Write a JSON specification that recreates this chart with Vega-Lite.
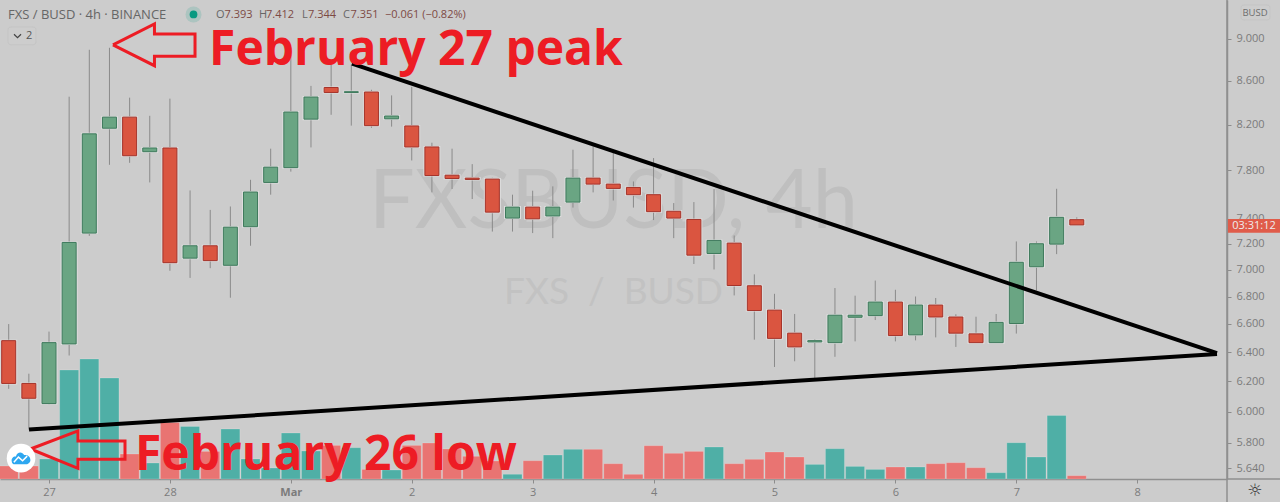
{
"$schema":"https://vega.github.io/schema/vega-lite/v6.json",
"width":1227,"height":479,
"autosize":{"type":"none"},
"padding":{"left":0,"top":0,"right":53,"bottom":23},
"background":"#cccccc",
"view":{"stroke":null},
"config":{"axis":{"grid":false},"text":{"font":"Open Sans"}},
"datasets":{"bars":[
{"t":"2022-02-26T16:00:00Z","o":6.481,"h":6.599,"l":6.150,"c":6.186,"v":13,"d":"d"},
{"t":"2022-02-26T20:00:00Z","o":6.186,"h":6.252,"l":5.883,"c":6.087,"v":13,"d":"d"},
{"t":"2022-02-27T00:00:00Z","o":6.052,"h":6.545,"l":6.046,"c":6.467,"v":20,"d":"u"},
{"t":"2022-02-27T04:00:00Z","o":6.458,"h":8.452,"l":6.377,"c":7.212,"v":109,"d":"u"},
{"t":"2022-02-27T08:00:00Z","o":7.286,"h":8.895,"l":7.264,"c":8.117,"v":120,"d":"u"},
{"t":"2022-02-27T12:00:00Z","o":8.167,"h":8.914,"l":7.848,"c":8.266,"v":101,"d":"u"},
{"t":"2022-02-27T16:00:00Z","o":8.266,"h":8.443,"l":7.865,"c":7.926,"v":25,"d":"d"},
{"t":"2022-02-27T20:00:00Z","o":7.961,"h":8.278,"l":7.699,"c":7.993,"v":16,"d":"u"},
{"t":"2022-02-28T00:00:00Z","o":7.993,"h":8.434,"l":6.993,"c":7.055,"v":56.6,"d":"d"},
{"t":"2022-02-28T04:00:00Z","o":7.090,"h":7.632,"l":6.939,"c":7.186,"v":52.6,"d":"u"},
{"t":"2022-02-28T08:00:00Z","o":7.186,"h":7.472,"l":7.013,"c":7.071,"v":27.6,"d":"d"},
{"t":"2022-02-28T12:00:00Z","o":7.035,"h":7.500,"l":6.791,"c":7.333,"v":50,"d":"u"},
{"t":"2022-02-28T16:00:00Z","o":7.337,"h":7.721,"l":7.186,"c":7.619,"v":20,"d":"u"},
{"t":"2022-02-28T20:00:00Z","o":7.699,"h":7.987,"l":7.597,"c":7.828,"v":11,"d":"u"},
{"t":"2022-03-01T00:00:00Z","o":7.824,"h":8.895,"l":7.790,"c":8.312,"v":46,"d":"u"},
{"t":"2022-03-01T04:00:00Z","o":8.248,"h":8.552,"l":7.998,"c":8.449,"v":28,"d":"u"},
{"t":"2022-03-01T08:00:00Z","o":8.537,"h":8.770,"l":8.287,"c":8.491,"v":33.6,"d":"d"},
{"t":"2022-03-01T12:00:00Z","o":8.491,"h":8.751,"l":8.190,"c":8.498,"v":31.3,"d":"u"},
{"t":"2022-03-01T16:00:00Z","o":8.495,"h":8.516,"l":8.170,"c":8.190,"v":9.6,"d":"d"},
{"t":"2022-03-01T20:00:00Z","o":8.251,"h":8.464,"l":8.181,"c":8.276,"v":9,"d":"u"},
{"t":"2022-03-02T00:00:00Z","o":8.187,"h":8.543,"l":7.885,"c":8.002,"v":33.6,"d":"d"},
{"t":"2022-03-02T04:00:00Z","o":8.002,"h":8.039,"l":7.616,"c":7.757,"v":36,"d":"d"},
{"t":"2022-03-02T08:00:00Z","o":7.760,"h":7.987,"l":7.644,"c":7.732,"v":30,"d":"d"},
{"t":"2022-03-02T12:00:00Z","o":7.735,"h":7.854,"l":7.561,"c":7.724,"v":22.7,"d":"d"},
{"t":"2022-03-02T16:00:00Z","o":7.727,"h":7.738,"l":7.298,"c":7.454,"v":18,"d":"d"},
{"t":"2022-03-02T20:00:00Z","o":7.406,"h":7.597,"l":7.298,"c":7.495,"v":4.7,"d":"u"},
{"t":"2022-03-03T00:00:00Z","o":7.495,"h":7.630,"l":7.286,"c":7.400,"v":18.3,"d":"d"},
{"t":"2022-03-03T04:00:00Z","o":7.423,"h":7.666,"l":7.246,"c":7.495,"v":24,"d":"u"},
{"t":"2022-03-03T08:00:00Z","o":7.536,"h":7.978,"l":7.491,"c":7.735,"v":29.7,"d":"u"},
{"t":"2022-03-03T12:00:00Z","o":7.735,"h":8.007,"l":7.616,"c":7.685,"v":29.7,"d":"d"},
{"t":"2022-03-03T16:00:00Z","o":7.685,"h":7.961,"l":7.549,"c":7.649,"v":15.3,"d":"d"},
{"t":"2022-03-03T20:00:00Z","o":7.657,"h":7.707,"l":7.491,"c":7.597,"v":4.7,"d":"d"},
{"t":"2022-03-04T00:00:00Z","o":7.597,"h":7.906,"l":7.390,"c":7.458,"v":33.3,"d":"d"},
{"t":"2022-03-04T04:00:00Z","o":7.461,"h":7.528,"l":7.246,"c":7.406,"v":25.7,"d":"d"},
{"t":"2022-03-04T08:00:00Z","o":7.395,"h":7.536,"l":7.045,"c":7.113,"v":27.6,"d":"d"},
{"t":"2022-03-04T12:00:00Z","o":7.126,"h":7.644,"l":7.003,"c":7.228,"v":32,"d":"u"},
{"t":"2022-03-04T16:00:00Z","o":7.207,"h":7.267,"l":6.808,"c":6.882,"v":15.3,"d":"d"},
{"t":"2022-03-04T20:00:00Z","o":6.880,"h":6.966,"l":6.488,"c":6.697,"v":19.7,"d":"d"},
{"t":"2022-03-05T00:00:00Z","o":6.700,"h":6.820,"l":6.298,"c":6.497,"v":27,"d":"d"},
{"t":"2022-03-05T04:00:00Z","o":6.534,"h":6.672,"l":6.337,"c":6.437,"v":22,"d":"d"},
{"t":"2022-03-05T08:00:00Z","o":6.472,"h":6.492,"l":6.216,"c":6.481,"v":14.6,"d":"u"},
{"t":"2022-03-05T12:00:00Z","o":6.467,"h":6.863,"l":6.368,"c":6.663,"v":30.3,"d":"u"},
{"t":"2022-03-05T16:00:00Z","o":6.648,"h":6.806,"l":6.476,"c":6.663,"v":12.6,"d":"u"},
{"t":"2022-03-05T20:00:00Z","o":6.660,"h":6.919,"l":6.628,"c":6.759,"v":9.6,"d":"u"},
{"t":"2022-03-06T00:00:00Z","o":6.759,"h":6.850,"l":6.476,"c":6.517,"v":12,"d":"d"},
{"t":"2022-03-06T04:00:00Z","o":6.522,"h":6.800,"l":6.483,"c":6.737,"v":12,"d":"u"},
{"t":"2022-03-06T08:00:00Z","o":6.737,"h":6.789,"l":6.504,"c":6.650,"v":15.3,"d":"d"},
{"t":"2022-03-06T12:00:00Z","o":6.650,"h":6.670,"l":6.437,"c":6.534,"v":16.3,"d":"d"},
{"t":"2022-03-06T16:00:00Z","o":6.529,"h":6.652,"l":6.465,"c":6.467,"v":11.3,"d":"d"},
{"t":"2022-03-06T20:00:00Z","o":6.467,"h":6.672,"l":6.465,"c":6.611,"v":6.3,"d":"u"},
{"t":"2022-03-07T00:00:00Z","o":6.603,"h":7.220,"l":6.531,"c":7.058,"v":36.3,"d":"u"},
{"t":"2022-03-07T04:00:00Z","o":7.024,"h":7.220,"l":6.845,"c":7.202,"v":22,"d":"u"},
{"t":"2022-03-07T08:00:00Z","o":7.199,"h":7.646,"l":7.121,"c":7.412,"v":63.6,"d":"u"},
{"t":"2022-03-07T12:00:00Z","o":7.393,"h":7.412,"l":7.344,"c":7.351,"v":3.3,"d":"d"}
]},
"encoding":{"x":{"field":"t","type":"temporal",
 "scale":{"type":"utc","domain":["2022-02-26T14:16:26Z","2022-03-08T17:49:00Z"],"nice":false,"padding":0},
 "axis":{"title":null,"grid":false,"tickCount":{"interval":"day","step":1},
  "labelExpr":"utcdate(datum.value)==1?'Mar':''+utcdate(datum.value)",
  "labelFont":"Open Sans","labelFontSize":11,"labelColor":"#7b7b7b","labelPadding":3,"labelFlush":false,"labelOverlap":false,
  "labelFontWeight":{"condition":{"test":"utcdate(datum.value)==1","value":"bold"},"value":"normal"},
  "tickColor":"#8c8c8c","tickSize":4,"tickWidth":1,"domainColor":"#8f8f8f","domainWidth":1.5}}},
"layer":[
 {"data":{"values":[{"t":"2022-03-03T16:03:00Z","p":7.327,"s":"FXSBUSD, 4h"}]},
  "mark":{"type":"text","font":"Lato","fontSize":81,"color":"#bfbfbf","align":"center","baseline":"alphabetic"},
  "encoding":{"y":{"field":"p","type":"quantitative","axis":null,"scale":{"type":"log","domain":[5.575,9.39],"nice":false,"zero":false}},"text":{"field":"s"}}},
 {"data":{"values":[{"t":"2022-03-03T16:03:00Z","p":6.747,"s":"FXS\u00a0\u00a0/\u00a0\u00a0BUSD"}]},
  "mark":{"type":"text","font":"Lato","fontSize":37,"color":"#c2c2c2","align":"center","baseline":"alphabetic"},
  "encoding":{"y":{"field":"p","type":"quantitative","axis":null,"scale":{"type":"log","domain":[5.575,9.39],"nice":false,"zero":false}},"text":{"field":"s"}}},
 {"data":{"name":"bars"},
  "mark":{"type":"bar","size":19,"strokeWidth":1,"stroke":"#ffffff","strokeOpacity":0.18},
  "encoding":{"y":{"field":"v","type":"quantitative","axis":null,"scale":{"domain":[0,479],"nice":false,"zero":true}},
   "fill":{"condition":{"test":"datum.d=='u'","value":"#4fafa6"},"value":"#e97472"}}},
 {"layer":[
  {"data":{"name":"bars"},
   "mark":{"type":"rule","color":"#8a8a8a","strokeWidth":1},
   "encoding":{"y":{"field":"h","type":"quantitative","title":null,"scale":{"type":"log","domain":[5.575,9.39],"nice":false,"zero":false},
     "axis":{"orient":"right","title":null,"grid":false,"values":[5.64,5.8,6,6.2,6.4,6.6,6.8,7,7.2,7.4,7.8,8.2,8.6,9],"format":".3f","labelFont":"Open Sans","labelFontSize":11,"labelColor":"#7b7b7b","labelPadding":5,"labelFlush":false,"labelOverlap":false,"tickColor":"#8c8c8c","tickSize":4,"domainColor":"#8f8f8f","domainWidth":1.5}},
    "y2":{"field":"l"}}},
  {"data":{"name":"bars"},
   "mark":{"type":"bar","size":15,"fill":"#dedede","stroke":"#dedede","strokeWidth":2},
   "encoding":{"y":{"field":"o","type":"quantitative","title":null,"axis":{"orient":"right","title":null},"scale":{"type":"log","domain":[5.575,9.39],"nice":false,"zero":false}},"y2":{"field":"c"}}},
  {"data":{"name":"bars"},
   "mark":{"type":"bar","size":14,"strokeWidth":1},
   "encoding":{"y":{"field":"o","type":"quantitative","title":null,"axis":{"orient":"right","title":null},"scale":{"type":"log","domain":[5.575,9.39],"nice":false,"zero":false}},"y2":{"field":"c"},
    "fill":{"condition":{"test":"datum.d=='u'","value":"#6aa583"},"value":"#da5540"},
    "stroke":{"condition":{"test":"datum.d=='u'","value":"#3e7a5c"},"value":"#a5332a"}}},
  {"data":{"values":[
    {"id":"upper","n":0,"t":"2022-03-01T12:08:00Z","p":8.761},{"id":"upper","n":1,"t":"2022-03-08T15:50:00Z","p":6.394},
    {"id":"lower","n":0,"t":"2022-02-26T20:02:00Z","p":5.883},{"id":"lower","n":1,"t":"2022-03-08T15:50:00Z","p":6.387}]},
   "mark":{"type":"line","color":"#000000","strokeWidth":4,"strokeCap":"butt"},
   "encoding":{"y":{"field":"p","type":"quantitative","title":null,"axis":{"orient":"right","title":null},"scale":{"type":"log","domain":[5.575,9.39],"nice":false,"zero":false}},"detail":{"field":"id"},"order":{"field":"n"}}},
  {"data":{"values":[
    {"id":"a","n":0,"t":"2022-02-27T12:42:00Z","p":8.943},{"id":"a","n":1,"t":"2022-02-27T20:56:00Z","p":9.148},{"id":"a","n":2,"t":"2022-02-27T20:56:00Z","p":9.049},{"id":"a","n":3,"t":"2022-02-28T04:59:00Z","p":9.049},{"id":"a","n":4,"t":"2022-02-28T04:59:00Z","p":8.833},{"id":"a","n":5,"t":"2022-02-27T20:56:00Z","p":8.833},{"id":"a","n":6,"t":"2022-02-27T20:56:00Z","p":8.742},{"id":"a","n":7,"t":"2022-02-27T12:42:00Z","p":8.943},
    {"id":"b","n":0,"t":"2022-02-26T20:20:00Z","p":5.76},{"id":"b","n":1,"t":"2022-02-27T05:45:00Z","p":5.875},{"id":"b","n":2,"t":"2022-02-27T05:45:00Z","p":5.811},{"id":"b","n":3,"t":"2022-02-27T15:05:00Z","p":5.811},{"id":"b","n":4,"t":"2022-02-27T15:05:00Z","p":5.696},{"id":"b","n":5,"t":"2022-02-27T05:45:00Z","p":5.696},{"id":"b","n":6,"t":"2022-02-27T05:45:00Z","p":5.64},{"id":"b","n":7,"t":"2022-02-26T20:20:00Z","p":5.76}]},
   "mark":{"type":"line","color":"#ed1c24","strokeWidth":3,"strokeJoin":"miter"},
   "encoding":{"y":{"field":"p","type":"quantitative","title":null,"axis":{"orient":"right","title":null},"scale":{"type":"log","domain":[5.575,9.39],"nice":false,"zero":false}},"detail":{"field":"id"},"order":{"field":"n"}}},
  {"data":{"values":[{"t":"2022-02-28T07:46:00Z","p":8.751,"s":"February 27 peak"},{"t":"2022-02-27T17:04:00Z","p":5.628,"s":"February 26 low"}]},
   "mark":{"type":"text","font":"Open Sans","fontWeight":700,"fontSize":48,"color":"#ed1c24","align":"left","baseline":"alphabetic"},
   "encoding":{"y":{"field":"p","type":"quantitative","title":null,"axis":{"orient":"right","title":null},"scale":{"type":"log","domain":[5.575,9.39],"nice":false,"zero":false}},"text":{"field":"s"}}},
  {"data":{"values":[{"t":"2022-03-08T17:49:00Z","p":9.39,"p2":5.437}]},
   "mark":{"type":"rule","color":"#8f8f8f","strokeWidth":1.5},
   "encoding":{"y":{"field":"p","type":"quantitative","title":null,"axis":{"orient":"right","title":null},"scale":{"type":"log","domain":[5.575,9.39],"nice":false,"zero":false}},"y2":{"field":"p2"}}},
  {"data":{"values":[{"t":"2022-03-08T17:49:00Z","t2":"2022-03-09T04:20:00Z","p":5.575}]},
   "mark":{"type":"rule","color":"#8f8f8f","strokeWidth":1.5},
   "encoding":{"y":{"field":"p","type":"quantitative","title":null,"axis":{"orient":"right","title":null},"scale":{"type":"log","domain":[5.575,9.39],"nice":false,"zero":false}},"x2":{"field":"t2"}}},
  {"data":{"values":[{"t":"2022-03-08T18:00:00Z","t2":"2022-03-09T04:20:00Z","p":7.398,"p2":7.288}]},
   "mark":{"type":"rect","fill":"#e05c4a"},
   "encoding":{"y":{"field":"p","type":"quantitative","title":null,"axis":{"orient":"right","title":null},"scale":{"type":"log","domain":[5.575,9.39],"nice":false,"zero":false}},"y2":{"field":"p2"},"x2":{"field":"t2"}}},
  {"data":{"values":[{"t":"2022-03-08T23:11:00Z","p":7.34,"s":"03:31:12"}]},
   "mark":{"type":"text","font":"Open Sans","fontSize":11,"color":"#eeeeee","align":"center","baseline":"middle"},
   "encoding":{"y":{"field":"p","type":"quantitative","title":null,"axis":{"orient":"right","title":null},"scale":{"type":"log","domain":[5.575,9.39],"nice":false,"zero":false}},"text":{"field":"s"}}},
  {"data":{"values":[{"t":"2022-03-08T20:36:00Z","t2":"2022-03-09T02:21:00Z","p":9.339,"p2":9.188},{"t":"2022-02-26T15:52:00Z","t2":"2022-02-26T21:25:00Z","p":9.118,"p2":8.943}]},
   "mark":{"type":"rect","fill":"#cdcdcd","stroke":"#c5c5c5","strokeWidth":1,"cornerRadius":3},
   "encoding":{"y":{"field":"p","type":"quantitative","title":null,"axis":{"orient":"right","title":null},"scale":{"type":"log","domain":[5.575,9.39],"nice":false,"zero":false}},"y2":{"field":"p2"},"x2":{"field":"t2"}}},
  {"data":{"values":[{"t":"2022-03-08T23:23:00Z","p":9.258,"s":"BUSD"}]},
   "mark":{"type":"text","font":"Open Sans","fontSize":9.5,"color":"#6e6e6e","align":"center","baseline":"middle"},
   "encoding":{"y":{"field":"p","type":"quantitative","title":null,"axis":{"orient":"right","title":null},"scale":{"type":"log","domain":[5.575,9.39],"nice":false,"zero":false}},"text":{"field":"s"}}},
  {"data":{"values":[{"t":"2022-02-26T15:52:00Z","p":9.238,"s":"FXS / BUSD \u00b7 4h \u00b7 BINANCE"}]},
   "mark":{"type":"text","font":"Open Sans","fontSize":13,"color":"#666666","align":"left","baseline":"middle"},
   "encoding":{"y":{"field":"p","type":"quantitative","title":null,"axis":{"orient":"right","title":null},"scale":{"type":"log","domain":[5.575,9.39],"nice":false,"zero":false}},"text":{"field":"s"}}},
  {"data":{"values":[{"t":"2022-02-28T09:09:00Z","p":9.238,"s":"O"},{"t":"2022-02-28T17:41:00Z","p":9.238,"s":"H"},{"t":"2022-03-01T02:13:00Z","p":9.238,"s":"L"},{"t":"2022-03-01T10:22:00Z","p":9.238,"s":"C"}]},
   "mark":{"type":"text","font":"Open Sans","fontSize":11,"color":"#666666","align":"left","baseline":"middle"},
   "encoding":{"y":{"field":"p","type":"quantitative","title":null,"axis":{"orient":"right","title":null},"scale":{"type":"log","domain":[5.575,9.39],"nice":false,"zero":false}},"text":{"field":"s"}}},
  {"data":{"values":[{"t":"2022-02-28T10:50:00Z","p":9.238,"s":"7.393"},{"t":"2022-02-28T19:05:00Z","p":9.238,"s":"7.412"},{"t":"2022-03-01T03:25:00Z","p":9.238,"s":"7.344"},{"t":"2022-03-01T11:50:00Z","p":9.238,"s":"7.351"},{"t":"2022-03-01T18:41:00Z","p":9.238,"s":"\u22120.061 (\u22120.82%)"}]},
   "mark":{"type":"text","font":"Open Sans","fontSize":11,"color":"#7d4a44","align":"left","baseline":"middle"},
   "encoding":{"y":{"field":"p","type":"quantitative","title":null,"axis":{"orient":"right","title":null},"scale":{"type":"log","domain":[5.575,9.39],"nice":false,"zero":false}},"text":{"field":"s"}}},
  {"data":{"values":[{"t":"2022-02-28T04:41:00Z","p":9.243}]},
   "mark":{"type":"point","filled":true,"shape":"circle","size":256,"color":"#089981","opacity":0.16},
   "encoding":{"y":{"field":"p","type":"quantitative","title":null,"axis":{"orient":"right","title":null},"scale":{"type":"log","domain":[5.575,9.39],"nice":false,"zero":false}}}},
  {"data":{"values":[{"t":"2022-02-28T04:41:00Z","p":9.243}]},
   "mark":{"type":"point","filled":true,"shape":"circle","size":60,"color":"#089981","opacity":1},
   "encoding":{"y":{"field":"p","type":"quantitative","title":null,"axis":{"orient":"right","title":null},"scale":{"type":"log","domain":[5.575,9.39],"nice":false,"zero":false}}}},
  {"data":{"values":[{"t":"2022-02-26T17:45:00Z","p":9.029}]},
   "mark":{"type":"point","filled":false,"shape":"M-1 -0.5L0 0.5L1 -0.5","size":49,"color":"#444444","strokeWidth":1.2,"opacity":1},
   "encoding":{"y":{"field":"p","type":"quantitative","title":null,"axis":{"orient":"right","title":null},"scale":{"type":"log","domain":[5.575,9.39],"nice":false,"zero":false}}}},
  {"data":{"values":[{"t":"2022-02-26T20:02:00Z","p":9.029,"s":"2"}]},
   "mark":{"type":"text","font":"Open Sans","fontSize":11,"color":"#555555","align":"center","baseline":"middle"},
   "encoding":{"y":{"field":"p","type":"quantitative","title":null,"axis":{"orient":"right","title":null},"scale":{"type":"log","domain":[5.575,9.39],"nice":false,"zero":false}},"text":{"field":"s"}}},
  {"data":{"values":[{"t":"2022-02-26T18:27:00Z","p":5.703}]},
   "mark":{"type":"point","filled":true,"shape":"circle","size":818,"color":"#ffffff","opacity":1},
   "encoding":{"y":{"field":"p","type":"quantitative","title":null,"axis":{"orient":"right","title":null},"scale":{"type":"log","domain":[5.575,9.39],"nice":false,"zero":false}}}},
  {"data":{"values":[{"t":"2022-02-26T18:27:00Z","p":5.703}]},
   "mark":{"type":"point","filled":true,"shape":"M-0.9 0.35C-1 0 -0.7 -0.2 -0.5 -0.15C-0.4 -0.6 0.1 -0.7 0.3 -0.3C0.7 -0.4 1 0 0.9 0.3C0.85 0.5 0.6 0.6 0.5 0.6L-0.6 0.6C-0.8 0.6 -0.9 0.5 -0.9 0.35Z","size":420,"color":"#2ea7f0","opacity":1},
   "encoding":{"y":{"field":"p","type":"quantitative","title":null,"axis":{"orient":"right","title":null},"scale":{"type":"log","domain":[5.575,9.39],"nice":false,"zero":false}}}},
  {"data":{"values":[{"t":"2022-02-26T18:27:00Z","p":5.703}]},
   "mark":{"type":"point","filled":false,"shape":"M-0.7 0.4L-0.25 -0.1L0.15 0.25L0.6 -0.2","size":420,"color":"#ffffff","strokeWidth":1.5,"opacity":1},
   "encoding":{"y":{"field":"p","type":"quantitative","title":null,"axis":{"orient":"right","title":null},"scale":{"type":"log","domain":[5.575,9.39],"nice":false,"zero":false}}}},
  {"data":{"values":[{"t":"2022-03-08T23:23:00Z","p":5.503,"s":"\u263c"}]},
   "mark":{"type":"text","font":"DejaVu Sans","fontSize":17,"color":"#333333","align":"center","baseline":"middle"},
   "encoding":{"y":{"field":"p","type":"quantitative","title":null,"axis":{"orient":"right","title":null},"scale":{"type":"log","domain":[5.575,9.39],"nice":false,"zero":false}},"text":{"field":"s"}}}
 ]}
],
"resolve":{"scale":{"y":"independent"}}
}
